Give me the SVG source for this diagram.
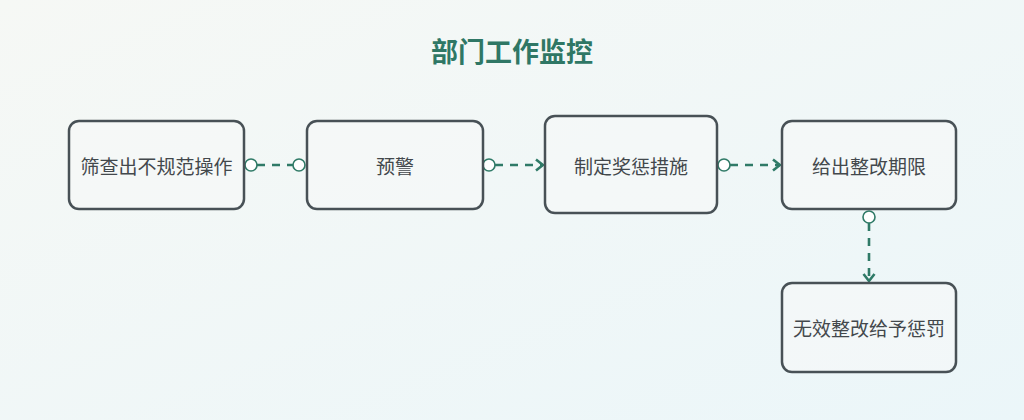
<svg xmlns="http://www.w3.org/2000/svg" width="1024" height="420" viewBox="0 0 1024 420">
<defs>
<linearGradient id="bg" x1="0" y1="0" x2="1" y2="1">
<stop offset="0" stop-color="#f6f8f5"/>
<stop offset="1" stop-color="#ebf6f9"/>
</linearGradient>
<marker id="arr" viewBox="0 0 12 14" refX="10" refY="7" markerWidth="12" markerHeight="14" markerUnits="userSpaceOnUse" orient="auto">
<path d="M3,1.5 L10,7 L3,12.5" fill="none" stroke="#2f7a67" stroke-width="2.6"/>
</marker>
</defs>
<style>
.node rect{fill:#f6f9f8;fill-opacity:0.6;stroke:#485156;stroke-width:2.5}
.node text{font-family:"Noto Sans CJK SC","Noto Sans",sans-serif;font-size:19px;fill:#43484c;text-anchor:middle;dominant-baseline:central}
.edge line{stroke:#2f7a67;stroke-width:2.6;stroke-dasharray:8 7}
.dot{fill:#ffffff;stroke:#2f7a67;stroke-width:1.6}
.title{font-family:"Noto Sans CJK SC","Noto Sans",sans-serif;font-size:27px;font-weight:bold;fill:#2f7765;text-anchor:middle}
</style>
<rect width="1024" height="420" fill="url(#bg)"/>
<text class="title" x="512" y="62">部门工作监控</text>
<g id="connectors">
<g class="edge"><line x1="257" y1="165" x2="293" y2="165"/><circle class="dot" cx="251" cy="165" r="6"/><circle class="dot" cx="299" cy="165" r="6"/></g>
<g class="edge"><line x1="495" y1="165" x2="543" y2="165" marker-end="url(#arr)"/><circle class="dot" cx="489" cy="165" r="6"/></g>
<g class="edge"><line x1="730" y1="165" x2="780" y2="165" marker-end="url(#arr)"/><circle class="dot" cx="724" cy="165" r="6"/></g>
<g class="edge"><line x1="869" y1="223" x2="869" y2="281" marker-end="url(#arr)"/><circle class="dot" cx="869" cy="217" r="6"/></g>
</g>
<g id="n1" class="node"><rect x="69" y="121" width="175" height="88" rx="10"/><text x="156.5" y="165">筛查出不规范操作</text></g>
<g id="n2" class="node"><rect x="307" y="121" width="176" height="88" rx="10"/><text x="395" y="165">预警</text></g>
<g id="n3" class="node"><rect x="545" y="116" width="172" height="97" rx="10"/><text x="631" y="165">制定奖惩措施</text></g>
<g id="n4" class="node"><rect x="782" y="121" width="174" height="88" rx="10"/><text x="869" y="165">给出整改期限</text></g>
<g id="n5" class="node"><rect x="782" y="283" width="174" height="89" rx="10"/><text x="869" y="327.5">无效整改给予惩罚</text></g>
</svg>
